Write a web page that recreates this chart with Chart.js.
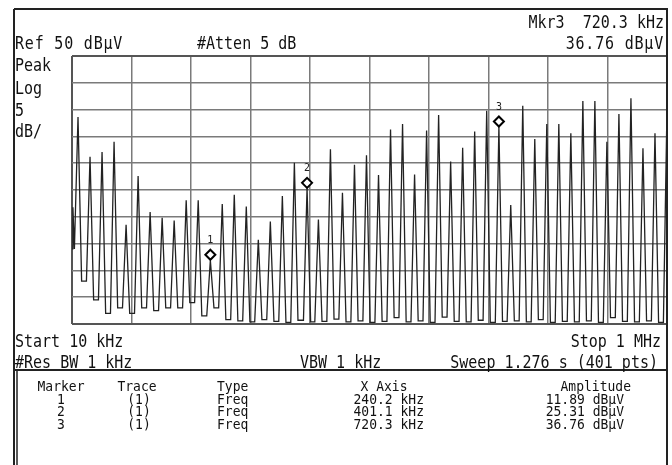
<!DOCTYPE html>
<html>
<head>
<meta charset="utf-8">
<script src="https://cdn.jsdelivr.net/npm/chart.js@4"></script>
<style>
body{margin:0;background:#fff}
#wrap{position:relative;width:672px;height:465px;overflow:hidden;background:#fff}
#wrap canvas{position:absolute;left:0;top:0}
.t{position:absolute;font-family:"DejaVu Sans Mono",monospace;font-size:15px;line-height:16px;color:#111;white-space:pre;transform:scaleY(1.2)}
.w{letter-spacing:0.8px}
.s{font-size:13px;line-height:14px;transform:scaleY(1.12)}
</style>
</head>
<body>
<div id="wrap">
<canvas id="sa" width="672" height="465"></canvas>

<div class="t" style="right:8px;top:14px">Mkr3  720.3 kHz</div>
<div class="t w" style="right:8px;top:35px">36.76 dBμV</div>
<div class="t w" style="left:15px;top:35px">Ref 50 dBμV</div>
<div class="t" style="left:197px;top:35px">#Atten 5 dB</div>
<div class="t" style="left:15px;top:57px">Peak</div>
<div class="t" style="left:15px;top:80px">Log</div>
<div class="t" style="left:15px;top:102px">5</div>
<div class="t" style="left:15px;top:123px">dB/</div>

<div class="t" style="left:15px;top:333px">Start 10 kHz</div>
<div class="t" style="right:11px;top:333px">Stop 1 MHz</div>
<div class="t" style="left:15px;top:354px">#Res BW 1 kHz</div>
<div class="t" style="left:300px;top:354px">VBW 1 kHz</div>
<div class="t" style="right:14px;top:354px">Sweep 1.276 s (401 pts)</div>

<div id="table"></div>
</div>

<script>
// marker table
const markerNames = ['1', '2', '3'];
const markerTrace = ['(1)', '(1)', '(1)'];
const markerType = ['Freq', 'Freq', 'Freq'];
const markerKHz = [240.2, 401.1, 720.3];
const markerDb = [11.89, 25.31, 36.76];

// trace start at 10 kHz
const leadKHz = [10, 11.5];
const leadDb = [14.0, 21.8];

// harmonic lines, 20 kHz apart
const harmonicKHz = [20, 40, 60, 80, 100, 120, 140, 160, 180, 200,
  220, 240.2, 260, 280, 300, 320, 340, 360, 380, 401.1,
  420, 440, 460, 480, 500, 520, 540, 560, 580, 600,
  620, 640, 660, 680, 700, 720.3, 740, 760, 780, 800,
  820, 840, 860, 880, 900, 920, 940, 960, 980, 1000];
const peakDb = [38.6, 31.2, 32.1, 34.0, 18.5, 27.6, 20.9, 19.8, 19.3, 23.1,
  23.1, 11.89, 22.4, 24.1, 21.9, 15.7, 19.1, 23.9, 30.1, 25.31,
  19.5, 32.6, 24.5, 29.7, 31.5, 27.8, 36.3, 37.3, 27.9, 36.1,
  39.0, 30.3, 32.9, 35.9, 39.8, 36.76, 22.2, 40.7, 34.5, 37.3,
  37.3, 35.6, 41.6, 41.6, 34.0, 39.2, 42.1, 32.8, 35.6, 40.3];
// noise floor just before each harmonic
const valleyDb = [14.0, 8.0, 4.5, 2.0, 3.0, 2.0, 3.0, 2.5, 3.0, 3.0,
  4.0, 1.5, 3.0, 0.8, 0.6, 0.4, 0.8, 0.5, 0.3, 0.7,
  0.4, 0.5, 0.9, 0.4, 0.6, 0.3, 0.5, 1.2, 0.4, 0.6,
  0.3, 1.3, 0.5, 0.4, 0.7, 0.3, 0.5, 0.6, 0.4, 0.8,
  0.3, 0.5, 0.4, 0.6, 0.3, 1.2, 0.5, 0.4, 0.6, 0.3];

// screen divisions
const xDivKHz = [10, 109, 208, 307, 406, 505, 604, 703, 802, 901, 1000];
const refDb = 50;
const dbPerDiv = 5;

const spikeHalf = 6; // kHz either side of a harmonic

const trace = [];
leadKHz.forEach((f, i) => trace.push({x: f, y: leadDb[i]}));
harmonicKHz.forEach((f, i) => {
  trace.push({x: f - spikeHalf, y: valleyDb[i]});
  trace.push({x: f, y: peakDb[i]});
  if (i < harmonicKHz.length - 1) trace.push({x: f + spikeHalf, y: valleyDb[i + 1]});
});

// table text
const tbl = document.getElementById('table');
function cell(txt, css) {
  const d = document.createElement('div');
  d.className = 't s';
  d.textContent = txt;
  d.style.cssText += css;
  tbl.appendChild(d);
}
cell('Marker', 'left:31px;width:60px;text-align:center;top:380px');
cell('Trace', 'left:107px;width:60px;text-align:center;top:380px');
cell('Type', 'left:217px;top:380px');
cell('X Axis', 'left:354px;width:60px;text-align:center;top:380px');
cell('Amplitude', 'right:41px;top:380px');
markerNames.forEach((m, i) => {
  const top = 393 + i * 12.3;
  cell(m, 'left:31px;width:60px;text-align:center;top:' + top + 'px');
  cell(markerTrace[i], 'left:109px;width:60px;text-align:center;top:' + top + 'px');
  cell(markerType[i], 'left:217px;top:' + top + 'px');
  cell(markerKHz[i].toFixed(1) + ' kHz', 'right:248px;top:' + top + 'px');
  cell(markerDb[i].toFixed(2) + ' dBμV', 'right:48px;top:' + top + 'px');
});

// frame of the display and marker diamonds
const screenPlugin = {
  id: 'screen',
  afterDraw(chart) {
    const c = chart.ctx;
    c.save();
    c.strokeStyle = '#222';
    c.lineWidth = 2;
    c.beginPath();
    c.moveTo(14, 9); c.lineTo(668, 9);
    c.moveTo(14, 9); c.lineTo(14, 465);
    c.moveTo(667, 9); c.lineTo(667, 465);
    c.moveTo(14, 370); c.lineTo(668, 370);
    c.stroke();
    c.lineWidth = 1.5;
    c.beginPath();
    c.moveTo(17, 371); c.lineTo(17, 465);
    c.stroke();

    const xs = chart.scales.x, ys = chart.scales.y;
    markerKHz.forEach((f, i) => {
      const px = xs.getPixelForValue(f);
      const py = ys.getPixelForValue(markerDb[i]) - 5.5;
      c.beginPath();
      c.moveTo(px, py - 5); c.lineTo(px + 5, py);
      c.lineTo(px, py + 5); c.lineTo(px - 5, py);
      c.closePath();
      c.fillStyle = '#fff';
      c.fill();
      c.strokeStyle = '#000';
      c.lineWidth = 2;
      c.stroke();
      c.fillStyle = '#222';
      c.font = '10px "DejaVu Sans Mono"';
      c.textAlign = 'center';
      c.textBaseline = 'middle';
      c.fillText(markerNames[i], px, py - 14);
    });
    c.restore();
  }
};

new Chart(document.getElementById('sa'), {
  type: 'line',
  data: {
    datasets: [{
      data: trace,
      borderColor: '#222',
      borderWidth: 1.3,
      pointRadius: 0,
      tension: 0
    }]
  },
  options: {
    responsive: false,
    animation: false,
    devicePixelRatio: 1,
    layout: {padding: {left: 72, top: 56, right: 5, bottom: 141}},
    plugins: {legend: {display: false}, tooltip: {enabled: false}},
    scales: {
      x: {
        type: 'linear',
        min: xDivKHz[0],
        max: xDivKHz[xDivKHz.length - 1],
        afterBuildTicks: s => { s.ticks = xDivKHz.map(v => ({value: v})); },
        ticks: {display: false},
        grid: {
          drawTicks: false,
          color: ctx => (ctx.index === 0 || ctx.index === xDivKHz.length - 1) ? '#555' : '#7a7a7a',
          lineWidth: ctx => (ctx.index === 0 || ctx.index === xDivKHz.length - 1) ? 2 : 1.5
        },
        border: {display: false}
      },
      y: {
        min: 0,
        max: refDb,
        ticks: {display: false, stepSize: dbPerDiv},
        grid: {
          drawTicks: false,
          color: ctx => (ctx.tick && (ctx.tick.value === 0 || ctx.tick.value === refDb)) ? '#555' : '#7a7a7a',
          lineWidth: ctx => (ctx.tick && (ctx.tick.value === 0 || ctx.tick.value === refDb)) ? 2 : 1.5
        },
        border: {display: false}
      }
    }
  },
  plugins: [screenPlugin]
});
</script>
</body>
</html>
